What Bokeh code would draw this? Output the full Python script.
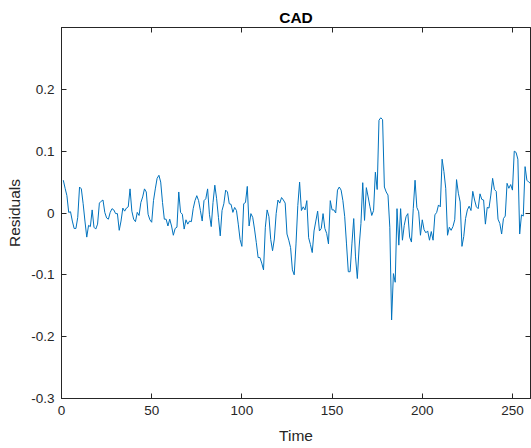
from bokeh.plotting import figure
from bokeh.models import LinearAxis, FixedTicker, Range1d, CustomLabelingPolicy
from bokeh.embed import file_html
from bokeh.resources import INLINE

# Residuals (time index 1..260)
residuals = [
    0.053, 0.040, 0.028, 0.001, 0.002, -0.013, -0.025, -0.025, -0.007, 0.042,
    0.039, 0.015, -0.013, -0.039, -0.020, -0.022, 0.005, -0.023, -0.026, -0.018,
    0.016, 0.019, 0.021, 0.001, -0.008, -0.010, 0.001, 0.007, 0.005, -0.001,
    -0.001, -0.028, -0.013, 0.008, 0.003, 0.008, 0.010, 0.039, 0.003, -0.010,
    -0.014, 0.001, -0.004, 0.017, 0.026, 0.039, 0.034, -0.002, -0.011, -0.015,
    0.020, 0.039, 0.056, 0.061, 0.050, 0.017, -0.010, -0.010, -0.021, -0.010,
    -0.021, -0.036, -0.025, -0.023, 0.034, 0.001, -0.002, -0.026, -0.011, -0.018,
    -0.013, -0.014, 0.007, 0.020, 0.028, 0.020, 0.004, -0.013, 0.020, 0.023,
    0.039, -0.002, -0.022, 0.017, 0.045, 0.023, -0.007, -0.037, 0.004, 0.015,
    0.037, 0.034, 0.015, 0.014, 0.001, 0.009, 0.004, -0.018, -0.043, -0.054,
    0.015, 0.017, 0.043, -0.021, -0.001, -0.007, -0.026, -0.048, -0.072, -0.072,
    -0.081, -0.092, -0.023, 0.005, -0.006, -0.043, -0.061, -0.042, -0.001, 0.021,
    0.016, 0.025, 0.021, 0.016, -0.034, -0.044, -0.056, -0.092, -0.100, -0.050,
    0.012, 0.050, 0.004, 0.010, 0.005, 0.020, -0.040, -0.051, -0.064, -0.029,
    -0.013, 0.003, -0.029, -0.025, -0.001, -0.025, -0.033, -0.050, 0.020, 0.005,
    0.005, 0.000, 0.037, 0.042, 0.037, 0.020, -0.006, -0.050, -0.095, -0.095,
    -0.050, -0.009, -0.071, -0.106, -0.055, -0.017, 0.049, -0.012, 0.041, 0.026,
    0.010, -0.004, 0.004, 0.066, 0.038, 0.150, 0.154, 0.151, 0.042, 0.034,
    0.029, -0.023, -0.173, -0.098, -0.112, 0.007, -0.052, 0.007, -0.044, -0.020,
    -0.006, -0.001, -0.039, -0.047, 0.007, 0.053, 0.009, 0.002, -0.036, -0.011,
    -0.027, -0.032, -0.029, -0.044, -0.030, -0.044, -0.003, 0.001, 0.013, 0.010,
    0.087, 0.067, 0.040, -0.036, -0.023, -0.028, -0.022, -0.011, 0.054, 0.032,
    0.018, -0.054, -0.038, -0.009, 0.005, 0.011, 0.004, 0.035, 0.021, 0.010,
    0.007, 0.031, 0.022, 0.021, -0.018, 0.009, 0.008, 0.029, 0.056, 0.038,
    0.035, -0.010, -0.017, -0.034, -0.009, -0.005, 0.048, 0.040, 0.046, 0.037,
    0.100, 0.098, 0.087, -0.034, -0.003, -0.005, 0.075, 0.053, 0.050, 0.048,
]
time = list(range(1, len(residuals) + 1))

x_ticks = [0, 50, 100, 150, 200, 250]
y_ticks = [-0.3, -0.2, -0.1, 0, 0.1, 0.2]
y_tick_labels = ["-0.3", "-0.2", "-0.1", "0", "0.1", "0.2"]

FONT = "Liberation Sans"
AX_COLOR = "#262626"

p = figure(width=531, height=448, output_backend="svg", toolbar_location=None,
           x_range=Range1d(0, 260), y_range=Range1d(-0.3, 0.3),
           x_axis_type=None, y_axis_type=None,
           min_border_left=61, min_border_right=1, min_border_top=27,
           min_border_bottom=50)
p.grid.visible = False
p.outline_line_color = AX_COLOR
p.outline_line_width = 1
p.background_fill_color = "white"
p.border_fill_color = "white"

p.title.text = "CAD"
p.title.align = "center"
p.title.text_font = FONT
p.title.text_font_style = "bold"
p.title.text_font_size = "15.5px"
p.title.text_color = "black"
p.title.standoff = 3


def style_axis(ax, show_labels):
    ax.axis_line_color = AX_COLOR
    ax.major_tick_line_color = AX_COLOR
    ax.major_tick_in = 5
    ax.major_tick_out = 0
    ax.minor_tick_line_color = None
    ax.major_label_text_font = FONT
    ax.major_label_text_color = AX_COLOR
    if show_labels:
        ax.major_label_text_font_size = "13.5px"
    else:
        # tick marks only (MATLAB box): no labels are drawn on these sides
        ax.major_label_policy = CustomLabelingPolicy(code="return []")
        ax.major_label_text_font_size = "0px"
        ax.major_label_standoff = 0


xb = LinearAxis(ticker=FixedTicker(ticks=x_ticks), axis_label="Time")
style_axis(xb, True)
xb.major_label_standoff = 7
xb.axis_label_text_font = FONT
xb.axis_label_text_font_size = "15.5px"
xb.axis_label_text_font_style = "normal"
xb.axis_label_text_color = AX_COLOR
xb.axis_label_standoff = 9
p.add_layout(xb, "below")

yl = LinearAxis(ticker=FixedTicker(ticks=y_ticks), axis_label="Residuals")
style_axis(yl, True)
yl.major_label_overrides = {t: s for t, s in zip(y_ticks, y_tick_labels)}
yl.major_label_standoff = 7
yl.axis_label_text_font = FONT
yl.axis_label_text_font_size = "15.5px"
yl.axis_label_text_font_style = "normal"
yl.axis_label_text_color = AX_COLOR
yl.axis_label_standoff = 5
p.add_layout(yl, "left")

xt = LinearAxis(ticker=FixedTicker(ticks=x_ticks))
style_axis(xt, False)
p.add_layout(xt, "above")

yr = LinearAxis(ticker=FixedTicker(ticks=y_ticks))
style_axis(yr, False)
p.add_layout(yr, "right")

p.line(time, residuals, line_color="#0072BD", line_width=1)

open("out.html", "w").write(file_html(p, INLINE))
